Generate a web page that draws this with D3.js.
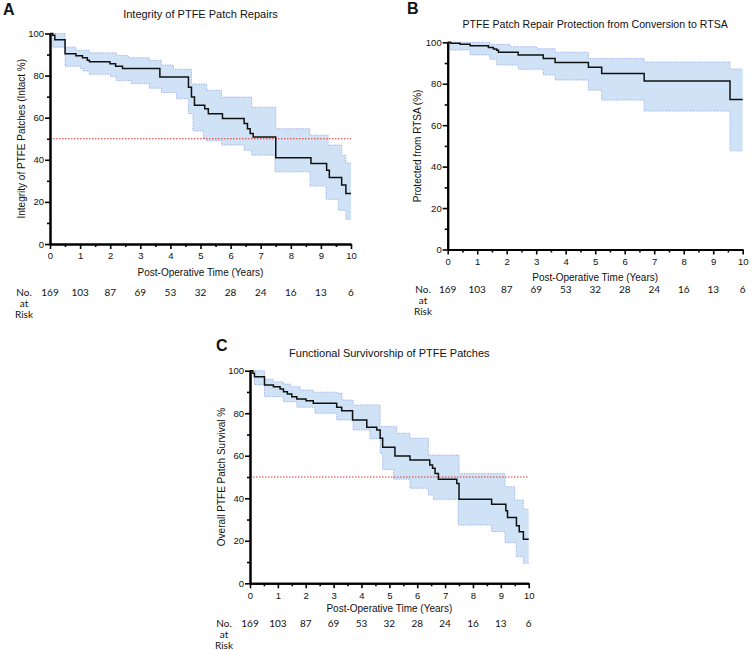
<!DOCTYPE html>
<html>
<head>
<meta charset="utf-8">
<script src="https://cdn.jsdelivr.net/npm/d3@7"></script>
<style>
  body { margin: 0; background: #fff; }
  svg text { font-family: "Liberation Sans", Arial, sans-serif; fill: #111; }
  .risk { font-family: Lato, "Open Sans", sans-serif !important; font-size: 10px; }
</style>
</head>
<body>
<svg id="chart" width="752" height="650"></svg>
<script>
// x tick values (years) and patients at risk
var years = [0, 1, 2, 3, 4, 5, 6, 7, 8, 9, 10];
var atRisk = [169, 103, 87, 69, 53, 32, 28, 24, 16, 13, 6];

// A: integrity of PTFE patch repairs
var aTime = [0, 0.09, 0.16, 0.5, 0.86, 1.08, 1.24, 1.31, 1.99, 2.18, 2.41, 3.65, 4.6, 4.7, 4.8, 5.14, 5.26, 5.73, 6.45, 6.56, 6.65, 6.75, 7.5, 8.67, 9.19, 9.28, 9.69, 9.83];
var aSurv = [100, 99.2, 97, 90.4, 89.4, 88.5, 87.3, 86.6, 85.6, 84.5, 83.4, 79.3, 74.5, 69.8, 65.9, 64.3, 61.9, 59.6, 57.2, 54.8, 52.5, 50.8, 41, 38.2, 35, 31.6, 28, 24];
var aUpTime = [0, 0.5, 0.86, 1.3, 2.2, 2.6, 3.3, 3.7, 4.1, 4.7, 5.2, 5.7, 6.7, 7.5, 8.63, 9.24, 9.69, 9.83];
var aUpper = [100, 93.5, 92, 90.8, 89.6, 88.5, 87.2, 85, 83, 76, 73, 69.8, 65, 54.8, 51.7, 47, 42.2, 38.5];
var aLoTime = [0, 0.09, 0.5, 1.0, 1.1, 1.3, 2.0, 2.2, 2.7, 3.3, 3.7, 4.2, 4.6, 4.75, 5.1, 5.2, 5.7, 6.45, 6.7, 7.47, 8.64, 9.17, 9.58, 9.83];
var aLower = [100, 93.5, 84.4, 83.3, 82.2, 80.6, 79.6, 77.7, 76.2, 74, 72, 69, 62, 53.7, 50.2, 49, 47, 44.5, 42.2, 34.3, 27.5, 21.2, 16, 11.7];

// B: protection from conversion to RTSA
var bTime = [0, 0.1, 0.42, 0.76, 1.38, 1.55, 1.66, 1.72, 2.39, 3.24, 3.64, 4.77, 5.22, 6.66, 9.57];
var bSurv = [100, 99.5, 99, 98.3, 97.5, 96.8, 96.2, 95.2, 93.9, 92.2, 90.3, 87.9, 85, 81.3, 72.4];
var bUpTime = [0, 1.43, 2.11, 3.02, 3.64, 4.77, 6.66, 9.57];
var bUpper = [100, 99, 97.9, 96.9, 95.2, 92.2, 90.5, 87.1];
var bLoTime = [0, 0.76, 1.43, 1.66, 2.39, 3.24, 3.64, 4.77, 5.22, 6.66, 9.57];
var bLower = [96.3, 93.9, 91.8, 89, 87, 84.2, 81.8, 76.9, 72.1, 66.8, 47.6];

// C: functional survivorship
var cTime = [0, 0.1, 0.16, 0.52, 0.84, 1.08, 1.2, 1.34, 1.5, 1.68, 2.01, 2.27, 3.11, 3.29, 3.68, 4.19, 4.55, 4.67, 4.76, 5.2, 5.74, 6.45, 6.55, 6.64, 6.76, 7.42, 7.5, 8.67, 9.18, 9.24, 9.56, 9.66, 9.81];
var cSurv = [100, 98.8, 97.2, 93.3, 92.5, 91.4, 90.1, 89, 87.8, 86.7, 85.9, 84.7, 82.8, 81.2, 76.8, 73.4, 72.1, 68.2, 64, 59.9, 58, 55.6, 54.1, 51.7, 49, 47, 39.5, 37.2, 34.1, 30.9, 27.1, 24.3, 20.7];
var cUpTime = [0, 0.52, 0.84, 1.2, 1.45, 1.8, 2.27, 3.11, 3.3, 3.7, 4.67, 5.26, 5.74, 6.4, 7.5, 9.15, 9.5, 9.81];
var cUpper = [100, 96, 94.8, 93.7, 92.5, 90.9, 89.9, 89.4, 86.2, 83.9, 73.7, 70.6, 68.2, 60.3, 51.7, 45.4, 39.2, 34.8];
var cLoTime = [0, 0.16, 0.52, 1.2, 1.68, 2.33, 3.11, 3.7, 4.3, 4.67, 4.76, 5.15, 5.74, 6.4, 6.58, 7.47, 8.67, 9.15, 9.56, 9.81];
var cLower = [100, 93.3, 87.8, 85.4, 82.8, 80, 76.8, 72.1, 68, 61.1, 53.5, 49, 44.7, 41.5, 39.5, 27.4, 24.3, 19.1, 12.5, 9.4];

var panels = [
  { letter: "A", title: "Integrity of PTFE Patch Repairs", ylab: "Integrity of PTFE Patches (Intact %)",
    left: 50, right: 351, bottom: 244, top: 33.5, letterX: 3, letterY: 9, titleY: 14, titleSize: 11,
    ylabX: 21, xtitleY: 272, riskY: 292, noX: 24, median: true,
    t: aTime, s: aSurv, upT: aUpTime, up: aUpper, loT: aLoTime, lo: aLower },
  { letter: "B", title: "PTFE Patch Repair Protection from Conversion to RTSA", ylab: "Protected from RTSA (%)",
    left: 447.7, right: 742.7, bottom: 249.5, top: 42.3, letterX: 407, letterY: 8, titleY: 24, titleSize: 10.6,
    ylabX: 417, xtitleY: 277, riskY: 289, noX: 423, median: false,
    t: bTime, s: bSurv, upT: bUpTime, up: bUpper, loT: bLoTime, lo: bLower },
  { letter: "C", title: "Functional Survivorship of PTFE Patches", ylab: "Overall PTFE Patch Survival %",
    left: 250, right: 528.7, bottom: 583.3, top: 370.7, letterX: 216, letterY: 345, titleY: 353, titleSize: 11,
    ylabX: 221, xtitleY: 608, riskY: 623, noX: 224, median: true,
    t: cTime, s: cSurv, upT: cUpTime, up: cUpper, loT: cLoTime, lo: cLower }
];

var svg = d3.select("#chart");

function stepAt(ts, vs, t) {
  var i = d3.bisectRight(ts, t) - 1;
  return vs[Math.max(i, 0)];
}

function pts(ts, vs) {
  var a = ts.map(function(t, i) { return [t, vs[i]]; });
  a.push([10, vs[vs.length - 1]]);
  return a;
}

function drawPanel(p) {
  var x = d3.scaleLinear().domain([0, 10]).range([p.left, p.right]);
  var y = d3.scaleLinear().domain([0, 100]).range([p.bottom, p.top]);
  var g = svg.append("g");

  // confidence band
  var times = Array.from(new Set(p.upT.concat(p.loT, [10]))).sort(d3.ascending);
  var band = times.map(function(t) {
    return { t: t, lo: stepAt(p.loT, p.lo, t), hi: stepAt(p.upT, p.up, t) };
  });
  g.append("path").datum(band)
      .attr("fill", "#cfe2f6")
      .attr("d", d3.area().curve(d3.curveStepAfter)
        .x(function(d) { return x(d.t); })
        .y0(function(d) { return y(d.lo); })
        .y1(function(d) { return y(d.hi); }));

  var line = d3.line().curve(d3.curveStepAfter)
      .x(function(d) { return x(d[0]); })
      .y(function(d) { return y(d[1]); });

  [pts(p.upT, p.up), pts(p.loT, p.lo)].forEach(function(d) {
    g.append("path").datum(d)
        .attr("fill", "none")
        .attr("stroke", "#8c9fe3")
        .attr("stroke-width", 0.8)
        .attr("stroke-dasharray", "1.2,1.2")
        .attr("d", line);
  });

  if (p.median) {
    g.append("line")
        .attr("x1", x(0)).attr("x2", x(10))
        .attr("y1", y(50)).attr("y2", y(50))
        .attr("stroke", "#e3342c")
        .attr("stroke-width", 1)
        .attr("stroke-dasharray", "1.5,1.5");
  }

  g.append("path").datum(pts(p.t, p.s))
      .attr("fill", "none")
      .attr("stroke", "#111")
      .attr("stroke-width", 1.5)
      .attr("d", line);

  // axes
  var minorY = d3.axisLeft(y).tickValues([10, 30, 50, 70, 90]).tickSize(3).tickFormat("").tickSizeOuter(0);
  var majorY = d3.axisLeft(y).tickValues([0, 20, 40, 60, 80, 100]).tickSize(5).tickPadding(1).tickSizeOuter(0);
  var minorX = d3.axisBottom(x).tickValues(d3.range(0.5, 10, 1)).tickSize(3).tickFormat("").tickSizeOuter(0);
  var majorX = d3.axisBottom(x).tickValues(years).tickSize(5).tickPadding(3.5).tickSizeOuter(0);

  [minorY, majorY].forEach(function(ax) {
    g.append("g").attr("transform", "translate(" + p.left + ",0)").call(ax);
  });
  [minorX, majorX].forEach(function(ax) {
    g.append("g").attr("transform", "translate(0," + p.bottom + ")").call(ax);
  });
  g.selectAll(".domain").attr("stroke", "#000").attr("stroke-width", 2);
  g.selectAll(".tick line").attr("stroke", "#000").attr("stroke-width", 1.6);
  g.selectAll(".tick text").attr("font-size", 9.5).attr("fill", "#222");

  // titles
  g.append("text")
      .attr("x", p.letterX).attr("y", p.letterY).attr("dy", ".35em")
      .attr("font-size", 16).attr("font-weight", "bold")
      .text(p.letter);
  g.append("text")
      .attr("x", (p.left + p.right) / 2).attr("y", p.titleY).attr("dy", ".35em")
      .attr("text-anchor", "middle").attr("font-size", p.titleSize)
      .text(p.title);
  g.append("text")
      .attr("transform", "translate(" + p.ylabX + "," + (p.top + p.bottom) / 2 + ") rotate(-90)")
      .attr("dy", ".35em").attr("text-anchor", "middle").attr("font-size", 10)
      .text(p.ylab);
  g.append("text")
      .attr("x", (p.left + p.right) / 2).attr("y", p.xtitleY).attr("dy", ".35em")
      .attr("text-anchor", "middle").attr("font-size", 10)
      .text("Post-Operative Time (Years)");

  // number at risk
  ["No.", "at", "Risk"].forEach(function(s, i) {
    g.append("text").attr("class", "risk")
        .attr("x", p.noX).attr("y", p.riskY + i * 11).attr("dy", ".35em")
        .attr("text-anchor", "middle")
        .text(s);
  });
  g.selectAll(".num").data(atRisk).enter().append("text")
      .attr("class", "risk num")
      .attr("x", function(d, i) { return x(years[i]); })
      .attr("y", p.riskY).attr("dy", ".35em")
      .attr("text-anchor", "middle")
      .text(function(d) { return d; });
}

panels.forEach(drawPanel);
</script>
</body>
</html>
